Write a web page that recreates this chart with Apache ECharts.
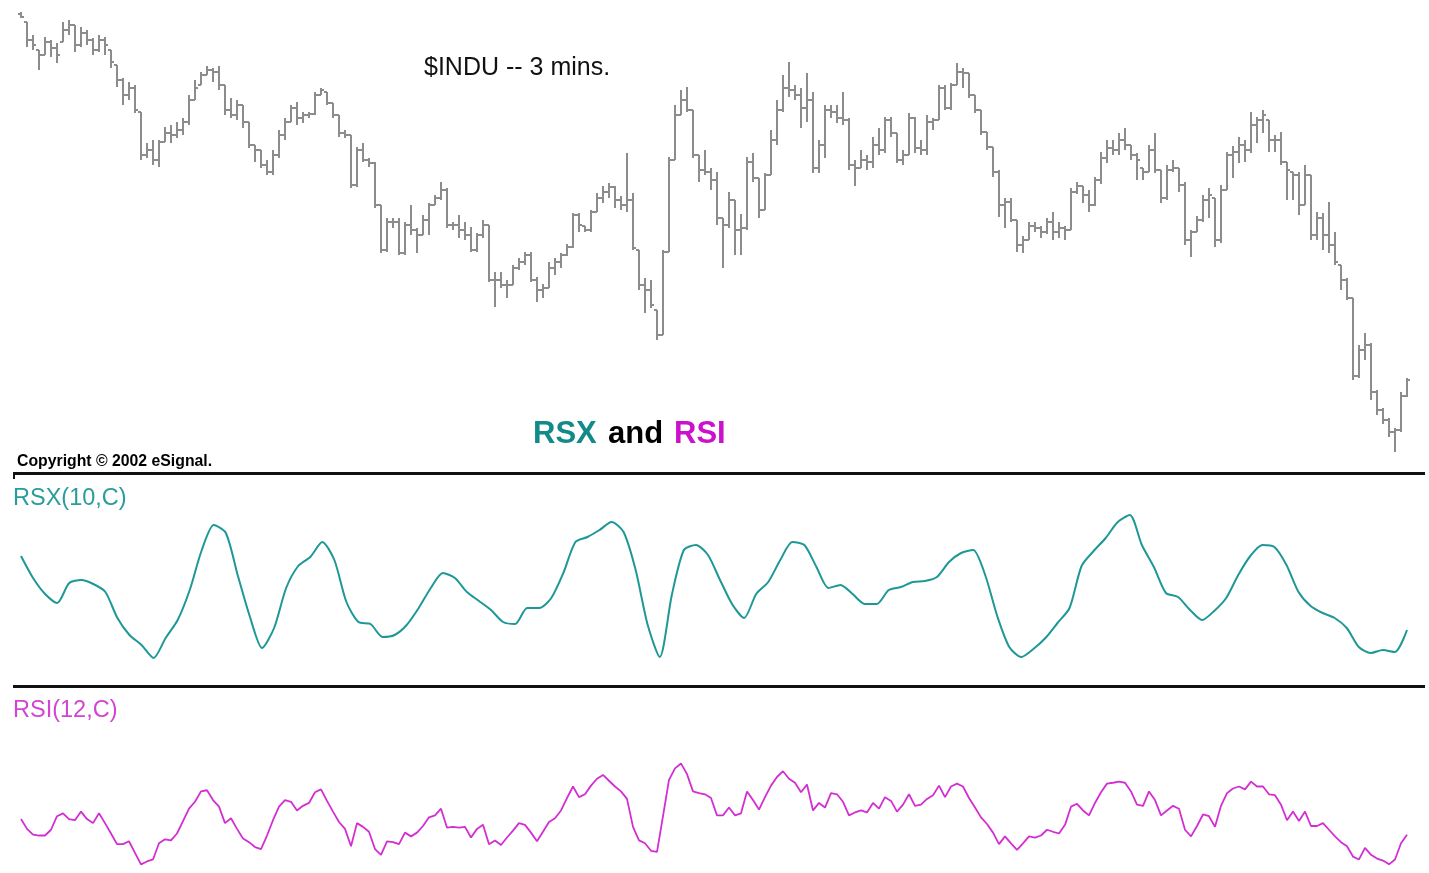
<!DOCTYPE html>
<html>
<head>
<meta charset="UTF-8">
<title>$INDU -- 3 mins. RSX and RSI</title>
<script src="https://cdn.jsdelivr.net/npm/echarts/dist/echarts.min.js"></script>
<style>
  html, body { margin: 0; padding: 0; background: #fff; }
  #chart { width: 1429px; height: 873px; }
</style>
</head>
<body>
<div id="chart"></div>
<script>
// 3-minute bars of $INDU
const opens = [
  8986, 8978, 8960, 8950, 8945, 8958, 8952, 8958, 8970, 8975,
  8955, 8967, 8960, 8950, 8960, 8950, 8935, 8920, 8905, 8912,
  8888, 8845, 8850, 8840, 8858, 8867, 8865, 8870, 8878, 8900,
  8915, 8925, 8930, 8928, 8915, 8890, 8885, 8895, 8878, 8855,
  8850, 8835, 8828, 8845, 8865, 8878, 8892, 8882, 8885, 8886,
  8905, 8908, 8897, 8885, 8867, 8865, 8815, 8850, 8840, 8837,
  8795, 8750, 8778, 8778, 8747, 8775, 8770, 8765, 8780, 8795,
  8802, 8810, 8775, 8775, 8770, 8765, 8750, 8765, 8775, 8720,
  8720, 8715, 8715, 8732, 8738, 8745, 8720, 8710, 8712, 8732,
  8738, 8745, 8753, 8785, 8774, 8770, 8788, 8802, 8808, 8813,
  8800, 8795, 8800, 8750, 8715, 8710, 8690, 8665, 8748, 8840,
  8885, 8900, 8890, 8845, 8830, 8828, 8820, 8782, 8775, 8800,
  8770, 8772, 8838, 8822, 8790, 8825, 8860, 8890, 8912, 8910,
  8905, 8892, 8900, 8832, 8855, 8890, 8888, 8882, 8880, 8835,
  8832, 8840, 8838, 8855, 8850, 8880, 8867, 8840, 8845, 8882,
  8852, 8850, 8878, 8880, 8912, 8892, 8915, 8928, 8927, 8905,
  8890, 8868, 8853, 8828, 8795, 8798, 8780, 8755, 8760, 8774,
  8772, 8768, 8778, 8768, 8772, 8770, 8808, 8814, 8805, 8795,
  8820, 8842, 8852, 8850, 8860, 8855, 8845, 8832, 8828, 8850,
  8830, 8802, 8830, 8832, 8815, 8760, 8768, 8780, 8800, 8802,
  8760, 8810, 8845, 8848, 8855, 8850, 8875, 8880, 8880, 8860,
  8860, 8838, 8828, 8825, 8795, 8825, 8765, 8782, 8765, 8755,
  8735, 8720, 8702, 8624, 8650, 8655, 8608, 8590, 8580, 8568,
  8570, 8604
];
const highs = [
  8988, 8978, 8965, 8950, 8963, 8960, 8957, 8978, 8980, 8975,
  8973, 8970, 8962, 8965, 8963, 8950, 8935, 8922, 8918, 8915,
  8888, 8857, 8860, 8860, 8873, 8875, 8878, 8882, 8905, 8920,
  8928, 8934, 8932, 8934, 8915, 8902, 8900, 8895, 8878, 8855,
  8850, 8840, 8850, 8870, 8882, 8895, 8898, 8888, 8888, 8908,
  8912, 8908, 8897, 8885, 8870, 8865, 8853, 8857, 8842, 8838,
  8795, 8782, 8782, 8782, 8778, 8795, 8772, 8785, 8797, 8805,
  8818, 8812, 8778, 8785, 8778, 8773, 8767, 8780, 8775, 8728,
  8728, 8720, 8735, 8742, 8748, 8748, 8723, 8716, 8738, 8742,
  8747, 8756, 8787, 8787, 8774, 8790, 8807, 8814, 8817, 8814,
  8804, 8847, 8807, 8750, 8722, 8720, 8690, 8750, 8843, 8895,
  8910, 8913, 8890, 8845, 8850, 8832, 8828, 8782, 8808, 8800,
  8786, 8843, 8847, 8822, 8827, 8870, 8900, 8925, 8938, 8915,
  8912, 8927, 8908, 8860, 8895, 8895, 8895, 8908, 8882, 8840,
  8850, 8845, 8863, 8872, 8883, 8883, 8867, 8850, 8887, 8883,
  8860, 8885, 8882, 8915, 8915, 8917, 8937, 8932, 8927, 8905,
  8890, 8868, 8853, 8830, 8802, 8802, 8780, 8764, 8778, 8778,
  8774, 8782, 8788, 8778, 8774, 8812, 8818, 8814, 8810, 8823,
  8848, 8860, 8860, 8867, 8872, 8855, 8847, 8832, 8855, 8867,
  8830, 8835, 8840, 8832, 8818, 8770, 8784, 8805, 8812, 8802,
  8815, 8848, 8854, 8863, 8860, 8888, 8883, 8890, 8880, 8865,
  8868, 8838, 8828, 8828, 8835, 8825, 8788, 8787, 8798, 8768,
  8735, 8722, 8702, 8655, 8667, 8657, 8610, 8592, 8582, 8572,
  8608, 8622
];
const lows = [
  8982, 8953, 8950, 8930, 8945, 8943, 8937, 8958, 8965, 8948,
  8953, 8955, 8945, 8948, 8945, 8932, 8913, 8895, 8900, 8887,
  8840, 8842, 8835, 8833, 8858, 8857, 8862, 8865, 8875, 8900,
  8915, 8925, 8918, 8910, 8885, 8882, 8880, 8872, 8852, 8838,
  8832, 8825, 8825, 8842, 8860, 8878, 8875, 8877, 8882, 8885,
  8905, 8895, 8882, 8863, 8862, 8812, 8813, 8838, 8833, 8792,
  8747, 8748, 8772, 8745, 8745, 8765, 8747, 8765, 8765, 8795,
  8800, 8772, 8770, 8762, 8760, 8748, 8748, 8762, 8718, 8693,
  8712, 8702, 8715, 8730, 8735, 8718, 8698, 8702, 8712, 8725,
  8732, 8744, 8752, 8768, 8768, 8768, 8788, 8797, 8802, 8792,
  8790, 8788, 8750, 8710, 8687, 8692, 8660, 8665, 8748, 8840,
  8885, 8888, 8842, 8818, 8825, 8810, 8775, 8732, 8772, 8745,
  8745, 8770, 8818, 8782, 8790, 8825, 8855, 8888, 8903, 8900,
  8872, 8878, 8827, 8827, 8842, 8882, 8877, 8875, 8830, 8814,
  8832, 8830, 8832, 8845, 8847, 8863, 8837, 8835, 8845, 8847,
  8845, 8845, 8870, 8880, 8890, 8890, 8915, 8912, 8902, 8887,
  8865, 8850, 8823, 8783, 8772, 8778, 8748, 8747, 8760, 8768,
  8762, 8766, 8760, 8762, 8760, 8770, 8806, 8797, 8788, 8794,
  8816, 8837, 8845, 8845, 8850, 8840, 8820, 8820, 8828, 8827,
  8797, 8800, 8828, 8808, 8755, 8743, 8768, 8778, 8782, 8753,
  8757, 8810, 8822, 8837, 8838, 8847, 8857, 8867, 8848, 8848,
  8835, 8800, 8800, 8785, 8795, 8760, 8760, 8750, 8747, 8735,
  8710, 8700, 8620, 8622, 8640, 8600, 8585, 8576, 8563, 8548,
  8568, 8603
];
const closes = [
  8983, 8960, 8955, 8945, 8958, 8952, 8945, 8970, 8975, 8955,
  8967, 8960, 8950, 8960, 8955, 8938, 8920, 8905, 8912, 8890,
  8845, 8850, 8840, 8858, 8867, 8865, 8870, 8878, 8900, 8912,
  8925, 8930, 8928, 8915, 8890, 8885, 8895, 8878, 8855, 8850,
  8835, 8828, 8845, 8865, 8878, 8892, 8882, 8885, 8886, 8905,
  8910, 8897, 8885, 8867, 8865, 8815, 8850, 8840, 8837, 8795,
  8750, 8778, 8778, 8747, 8775, 8770, 8765, 8780, 8795, 8802,
  8810, 8775, 8775, 8770, 8765, 8750, 8765, 8775, 8720, 8720,
  8715, 8715, 8732, 8738, 8745, 8720, 8710, 8712, 8732, 8738,
  8745, 8753, 8785, 8775, 8770, 8788, 8802, 8808, 8813, 8800,
  8795, 8800, 8752, 8715, 8710, 8695, 8665, 8748, 8840, 8885,
  8900, 8890, 8845, 8830, 8828, 8820, 8782, 8775, 8800, 8770,
  8772, 8838, 8822, 8790, 8825, 8860, 8890, 8912, 8910, 8905,
  8892, 8900, 8832, 8855, 8890, 8888, 8882, 8880, 8835, 8832,
  8840, 8838, 8855, 8850, 8880, 8867, 8840, 8845, 8882, 8852,
  8850, 8878, 8880, 8912, 8892, 8915, 8928, 8927, 8905, 8890,
  8868, 8853, 8828, 8795, 8798, 8780, 8755, 8760, 8774, 8772,
  8768, 8778, 8768, 8772, 8770, 8808, 8814, 8805, 8795, 8820,
  8842, 8852, 8850, 8860, 8855, 8845, 8840, 8828, 8850, 8830,
  8802, 8830, 8832, 8815, 8760, 8768, 8780, 8800, 8805, 8760,
  8810, 8845, 8848, 8855, 8850, 8875, 8880, 8885, 8860, 8860,
  8838, 8830, 8825, 8795, 8825, 8765, 8782, 8765, 8755, 8738,
  8720, 8702, 8624, 8650, 8655, 8608, 8590, 8580, 8568, 8570,
  8604, 8620
];

// RSX(10,C), read every second bar
const rsx = [
  62, 51, 43, 38.5, 48.5, 50, 48, 44, 31, 22.5,
  17.5, 11, 21, 30, 45, 65, 77.5, 73.5, 52, 31.5,
  16, 26, 46, 57, 61.5, 69, 60, 39, 29, 28,
  21.5, 22.5, 27.5, 36, 46, 53.5, 51, 44, 39.5, 35,
  29, 28, 36, 36, 41, 53.5, 69, 71.5, 75, 79,
  74, 55, 27.5, 11.5, 42.5, 65, 67.5, 62.5, 50, 38,
  31, 43, 49, 60, 69, 67.5, 56.5, 46, 47.5, 43,
  38, 38, 45, 46.5, 49, 49.5, 51.5, 59, 63.5, 65,
  52.5, 32, 16.5, 11.5, 15.5, 21, 28.5, 36, 57, 64.5,
  71, 79, 82.5, 67.5, 56.5, 43.5, 41.5, 35, 30, 34.5,
  41, 52.5, 62, 67.5, 66.5, 57.5, 44, 37, 33.5, 31,
  26, 16.5, 13.5, 15, 14, 25
];

// RSI(12,C), one value per bar
const rsi = [
  38.7, 35.3, 33.3, 33, 33, 35, 39.7, 40.7, 38.7, 38.3,
  41.3, 38.7, 37.3, 40.7, 37.3, 33.7, 30, 30, 31, 27,
  23, 24, 24.7, 30.3, 31.7, 31.3, 33.7, 38, 42.3, 44.7,
  48.3, 48.7, 45.3, 43, 37.3, 39, 35.3, 32, 30.7, 29,
  28.3, 33, 38.3, 43, 45.3, 44.7, 41.7, 43.3, 44.3, 48,
  49, 45, 41.3, 37.7, 35.3, 29.3, 37.3, 36, 34.3, 28.3,
  26.3, 31, 30.7, 30, 34, 32.7, 34, 36.3, 39.3, 40,
  42.3, 35.7, 36, 35.7, 36, 32.3, 35.3, 36.7, 30, 31.3,
  29.7, 32.3, 34.7, 37.3, 36.7, 34, 31, 34.3, 37.7, 39,
  41.7, 46, 50, 46.3, 47.3, 50.3, 52.7, 54, 52, 50,
  48.3, 45.7, 36, 31.3, 30.3, 27.7, 27.3, 39.7, 52.3, 56.3,
  58, 54.3, 48.3, 47.7, 47.3, 46, 40, 40, 42.7, 40,
  40.7, 48.3, 45.3, 42, 46.3, 50.3, 53.3, 55.3, 52.7, 51.3,
  48, 50.7, 41.7, 44.3, 42.7, 47.7, 47.3, 44.7, 40, 41,
  41.7, 41, 44.3, 42.3, 46.3, 45, 41.3, 43.7, 47.3, 43.3,
  43.7, 45.7, 47, 50.3, 46.3, 50, 51, 50, 46, 42.7,
  39.3, 37, 34, 30, 32.7, 30.3, 28, 30.3, 32.7, 32.3,
  33, 35, 34.3, 33.7, 36.7, 43, 44, 41.7, 40, 44.3,
  48, 51, 51.3, 51.7, 51.3, 48.3, 43.7, 43.3, 48.3, 45.3,
  40, 41.7, 43.3, 42.3, 35, 32.7, 36.3, 40.3, 39.7, 36,
  43.3, 47.7, 49.3, 50, 49, 51.7, 50, 50, 47.3, 47,
  43.7, 38.3, 41.3, 38, 41.3, 36.3, 36.3, 37.3, 35, 32.7,
  30.7, 29.3, 25.7, 24.7, 28.7, 26.3, 25, 24.3, 23, 24.7,
  30.3, 33.3
];

const chart = echarts.init(document.getElementById('chart'));

const nBars = closes.length;
const nRsx = rsx.length;
const bars = closes.map((c, i) => [i, opens[i], highs[i], lows[i], c]);
const rsxStep = (nBars - 1) / (nRsx - 1);

const FONT = '"Liberation Sans", Arial, sans-serif';
const GRAY = '#8c8c8c';
const TEAL = '#1e9797';
const MAGENTA = '#d22ed2';

function renderBar(params, api) {
  const i = api.value(0);
  const o = api.coord([i, api.value(1)]);
  const h = api.coord([i, api.value(2)]);
  const l = api.coord([i, api.value(3)]);
  const c = api.coord([i, api.value(4)]);
  const x = Math.round(h[0]);
  const st = { stroke: GRAY, lineWidth: 2 };
  return {
    type: 'group',
    children: [
      { type: 'line', shape: { x1: x, y1: h[1], x2: x, y2: l[1] }, style: st },
      { type: 'line', shape: { x1: x - 3, y1: o[1], x2: x, y2: o[1] }, style: st },
      { type: 'line', shape: { x1: x, y1: c[1], x2: x + 3, y2: c[1] }, style: st }
    ]
  };
}

const hidden = { show: false };

const option = {
  animation: false,
  backgroundColor: '#ffffff',
  grid: [
    { left: 18, width: 1392, top: 10, height: 450 },
    { left: 18, width: 1392, top: 480, height: 200 },
    { left: 18, width: 1392, top: 700, height: 180 }
  ],
  xAxis: [
    { type: 'value', gridIndex: 0, min: -0.5, max: nBars - 0.5, ...hidden },
    { type: 'value', gridIndex: 1, min: -0.5 / rsxStep, max: (nBars - 0.5) / rsxStep, ...hidden },
    { type: 'value', gridIndex: 2, min: -0.5, max: nBars - 0.5, ...hidden }
  ],
  yAxis: [
    { type: 'value', gridIndex: 0, min: 8540, max: 8990, ...hidden },
    { type: 'value', gridIndex: 1, min: 0, max: 100, ...hidden },
    { type: 'value', gridIndex: 2, min: 20, max: 80, ...hidden }
  ],
  series: [
    {
      name: '$INDU',
      type: 'custom',
      xAxisIndex: 0,
      yAxisIndex: 0,
      renderItem: renderBar,
      encode: { x: 0, y: [1, 2, 3, 4] },
      data: bars
    },
    {
      name: 'RSX(10,C)',
      type: 'line',
      xAxisIndex: 1,
      yAxisIndex: 1,
      data: rsx.map((v, k) => [k, v]),
      showSymbol: false,
      smooth: 0.25,
      lineStyle: { color: TEAL, width: 2 }
    },
    {
      name: 'RSI(12,C)',
      type: 'line',
      xAxisIndex: 2,
      yAxisIndex: 2,
      data: rsi.map((v, i) => [i, v]),
      showSymbol: false,
      lineStyle: { color: MAGENTA, width: 1.8 }
    }
  ],
  graphic: [
    { type: 'text', x: 424, y: 68, style: { text: '$INDU -- 3 mins.', font: '25px ' + FONT, fill: '#111', verticalAlign: 'middle' } },
    { type: 'text', x: 533, y: 434, style: { text: 'RSX', font: 'bold 31px ' + FONT, fill: '#138a8a', verticalAlign: 'middle' } },
    { type: 'text', x: 608, y: 434, style: { text: 'and', font: 'bold 31px ' + FONT, fill: '#000', verticalAlign: 'middle' } },
    { type: 'text', x: 674, y: 434, style: { text: 'RSI', font: 'bold 31px ' + FONT, fill: '#cc11cc', verticalAlign: 'middle' } },
    { type: 'text', x: 17, y: 462, style: { text: 'Copyright \u00a9 2002 eSignal.', font: 'bold 15.8px ' + FONT, fill: '#000', verticalAlign: 'middle' } },
    { type: 'rect', shape: { x: 13, y: 472, width: 1412, height: 3 }, style: { fill: '#111' } },
    { type: 'rect', shape: { x: 13, y: 472, width: 2, height: 7 }, style: { fill: '#111' } },
    { type: 'text', x: 13, y: 499, style: { text: 'RSX(10,C)', font: '23.5px ' + FONT, fill: '#2a9c9c', verticalAlign: 'middle' } },
    { type: 'rect', shape: { x: 13, y: 685, width: 1412, height: 3 }, style: { fill: '#111' } },
    { type: 'text', x: 13, y: 711, style: { text: 'RSI(12,C)', font: '23.5px ' + FONT, fill: '#d244d2', verticalAlign: 'middle' } }
  ]
};

chart.setOption(option);
</script>
</body>
</html>
